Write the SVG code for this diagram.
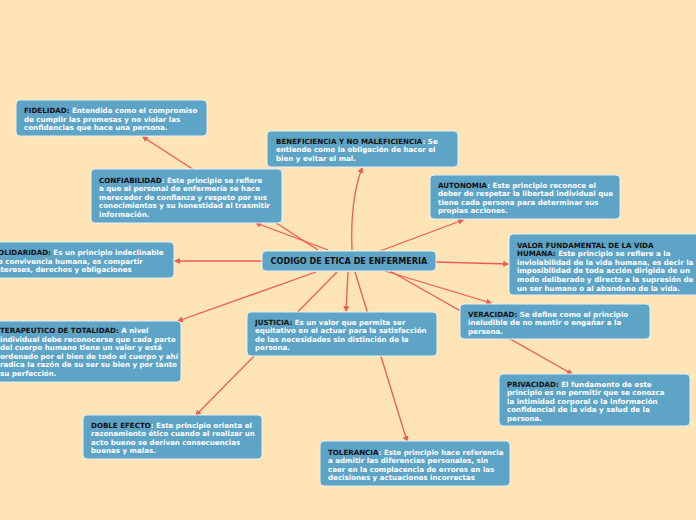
<svg xmlns="http://www.w3.org/2000/svg" width="696" height="520" viewBox="0 0 696 520">
<style>
.bg{fill:#ffe4b5}
.box{fill:#5ea4c7;stroke:#e6f0f4;stroke-width:1}
.t{font-family:"DejaVu Sans",Verdana,sans-serif;font-weight:bold;font-size:7.1px;fill:#ffffff}
.k{fill:#111111}
.c{font-family:"DejaVu Sans",Verdana,sans-serif;font-weight:bold;font-size:8.1px;fill:#111111;text-anchor:middle}
.ln{fill:none;stroke:#ee5a58;stroke-width:1.3}
</style>
<defs>
<marker id="ah" viewBox="0 0 10 10" refX="8" refY="5" markerWidth="6" markerHeight="6" orient="auto" markerUnits="userSpaceOnUse">
<path d="M0,0 L10,5 L0,10 z" fill="#ee5a58"/>
</marker>
</defs>
<rect class="bg" x="0" y="0" width="696" height="520"/>
<g id="connectors">
<path class="ln" d="M318,250 L143,137" marker-end="url(#ah)"/>
<path class="ln" d="M328,250 L256,223" marker-end="url(#ah)"/>
<path class="ln" d="M352,250 Q350,200 362,168" marker-end="url(#ah)"/>
<path class="ln" d="M380,251 L463,220" marker-end="url(#ah)"/>
<path class="ln" d="M262,261 L175,261" marker-end="url(#ah)"/>
<path class="ln" d="M436,262 L508,264" marker-end="url(#ah)"/>
<path class="ln" d="M316,272 L178,321" marker-end="url(#ah)"/>
<path class="ln" d="M348,272 L346,311" marker-end="url(#ah)"/>
<path class="ln" d="M337,272 L196,415" marker-end="url(#ah)"/>
<path class="ln" d="M355,272 L407,441" marker-end="url(#ah)"/>
<path class="ln" d="M385,271 L491,303" marker-end="url(#ah)"/>
<path class="ln" d="M390,271 L572,374" marker-end="url(#ah)"/>
</g>
<g id="fidelidad">
<rect class="box" x="16" y="100" width="191" height="36" rx="4"/>
<text class="t" x="24" y="113"><tspan class="k">FIDELIDAD:</tspan> Entendida como el compromiso<tspan x="24" dy="8.6">de cumplir las promesas y no violar las</tspan><tspan x="24" dy="8.6">confidencias que hace una persona.</tspan></text>
</g>
<g id="beneficiencia">
<rect class="box" x="267" y="131" width="191" height="36" rx="4"/>
<text class="t" x="276" y="143.5"><tspan class="k">BENEFICIENCIA Y NO MALEFICIENCIA</tspan>: Se<tspan x="276" dy="8.6">entiende como la obligación de hacer el</tspan><tspan x="276" dy="8.6">bien y evitar el mal.</tspan></text>
</g>
<g id="confiabilidad">
<rect class="box" x="91" y="169" width="191" height="54" rx="4"/>
<text class="t" x="99" y="182.5"><tspan class="k">CONFIABILIDAD</tspan>:  Este  principio se refiere<tspan x="99" dy="8.6">a que el personal de enfermería se hace</tspan><tspan x="99" dy="8.6">merecedor de confianza y respeto por sus</tspan><tspan x="99" dy="8.6">conocimientos y su honestidad al trasmitir</tspan><tspan x="99" dy="8.6">información.</tspan></text>
</g>
<g id="autonomia">
<rect class="box" x="430" y="175" width="190" height="44" rx="4"/>
<text class="t" x="438" y="187.5"><tspan class="k">AUTONOMIA</tspan>: Este principio reconoce el<tspan x="438" dy="8.6">deber de respetar la libertad individual que</tspan><tspan x="438" dy="8.6">tiene cada persona  para determinar sus</tspan><tspan x="438" dy="8.6">propias acciones.</tspan></text>
</g>
<g id="solidaridad">
<rect class="box" x="-15" y="242" width="189" height="36" rx="4"/>
<text class="t" x="-7" y="255"><tspan class="k">SOLIDARIDAD:</tspan> Es un principio indeclinable<tspan x="-7" dy="8.6">de convivencia humana, es compartir</tspan><tspan x="-7" dy="8.6">intereses, derechos y obligaciones</tspan></text>
</g>
<g id="centro">
<rect class="box" x="262" y="251" width="174" height="20" rx="4"/>
<text class="c" x="349" y="264">CODIGO DE ETICA DE ENFERMERIA</text>
</g>
<g id="valor">
<rect class="box" x="509" y="234" width="195" height="61" rx="4"/>
<text class="t" x="517" y="247.5"><tspan class="k">VALOR FUNDAMENTAL DE LA VIDA</tspan><tspan class="k" x="517" dy="8.6">HUMANA:</tspan> Este principio se refiere a la<tspan x="517" dy="8.6">inviolabilidad de la vida humana, es decir la</tspan><tspan x="517" dy="8.6">imposibilidad de toda acción dirigida de un</tspan><tspan x="517" dy="8.6">modo deliberado y directo a la supresión de</tspan><tspan x="517" dy="8.6">un ser humano o al abandono de la vida.</tspan></text>
</g>
<g id="terapeutico">
<rect class="box" x="-8" y="321" width="189" height="61" rx="4"/>
<text class="t" x="0" y="333"><tspan class="k">TERAPEUTICO DE TOTALIDAD:</tspan> A nivel<tspan x="0" dy="8.6">individual debe reconocerse que cada parte</tspan><tspan x="0" dy="8.6">del cuerpo humano tiene un valor y está</tspan><tspan x="0" dy="8.6">ordenado por el bien de todo el cuerpo y ahí</tspan><tspan x="0" dy="8.6">radica la razón de su ser su bien y por tanto</tspan><tspan x="0" dy="8.6">su perfección.</tspan></text>
</g>
<g id="justicia">
<rect class="box" x="247" y="312" width="190" height="44" rx="4"/>
<text class="t" x="255" y="324.5"><tspan class="k">JUSTICIA:</tspan> Es un valor  que permite ser<tspan x="255" dy="8.6">equitativo en el actuar para la satisfacción</tspan><tspan x="255" dy="8.6">de las necesidades sin distinción de la</tspan><tspan x="255" dy="8.6">persona.</tspan></text>
</g>
<g id="veracidad">
<rect class="box" x="460" y="304" width="190" height="35" rx="4"/>
<text class="t" x="468" y="316.5"><tspan class="k">VERACIDAD:</tspan> Se define como el principio<tspan x="468" dy="8.6">ineludible de no mentir o engañar a la</tspan><tspan x="468" dy="8.6">persona.</tspan></text>
</g>
<g id="privacidad">
<rect class="box" x="499" y="374" width="191" height="52" rx="4"/>
<text class="t" x="507" y="386.5"><tspan class="k">PRIVACIDAD:</tspan> El fundamento de este<tspan x="507" dy="8.6">principio es no permitir que se conozca</tspan><tspan x="507" dy="8.6">la intimidad corporal o la información</tspan><tspan x="507" dy="8.6">confidencial de la vida y salud de la</tspan><tspan x="507" dy="8.6">persona.</tspan></text>
</g>
<g id="doble-efecto">
<rect class="box" x="83" y="415" width="179" height="44" rx="4"/>
<text class="t" x="91" y="427.5"><tspan class="k">DOBLE EFECTO</tspan>: Este principio orienta el<tspan x="91" dy="8.6">razonamiento ético cuando al realizar un</tspan><tspan x="91" dy="8.6">acto bueno se derivan consecuencias</tspan><tspan x="91" dy="8.6">buenas y malas.</tspan></text>
</g>
<g id="tolerancia">
<rect class="box" x="320" y="441" width="190" height="45" rx="4"/>
<text class="t" x="328" y="454.5"><tspan class="k">TOLERANCIA</tspan>: Este principio hace referencia<tspan x="328" dy="8.6">a admitir las diferencias personales, sin</tspan><tspan x="328" dy="8.6">caer en la complacencia de errores en las</tspan><tspan x="328" dy="8.6">decisiones y actuaciones incorrectas</tspan></text>
</g>
</svg>
